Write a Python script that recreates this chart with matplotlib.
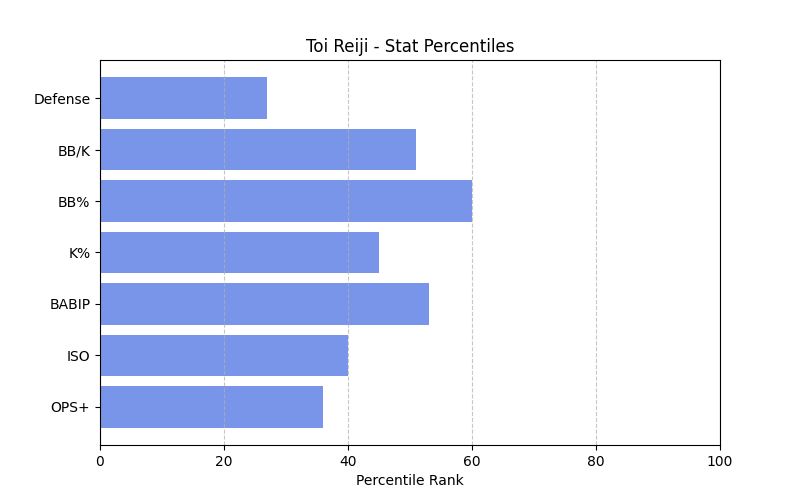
import matplotlib
matplotlib.use("Agg")
from matplotlib import pyplot as plt

stats = ["OPS+", "ISO", "BABIP", "K%", "BB%", "BB/K", "Defense"]
percentiles = [36, 40, 53, 45, 60, 51, 27]

fig, ax = plt.subplots(figsize=(8, 5), dpi=100)
ax.barh(stats, percentiles, color="royalblue", alpha=0.7)
ax.set_xlim(0, 100)
ax.set_xlabel("Percentile Rank")
ax.set_title("Toi Reiji - Stat Percentiles")
ax.grid(axis="x", linestyle="--", alpha=0.7)
fig.savefig("out.png")
